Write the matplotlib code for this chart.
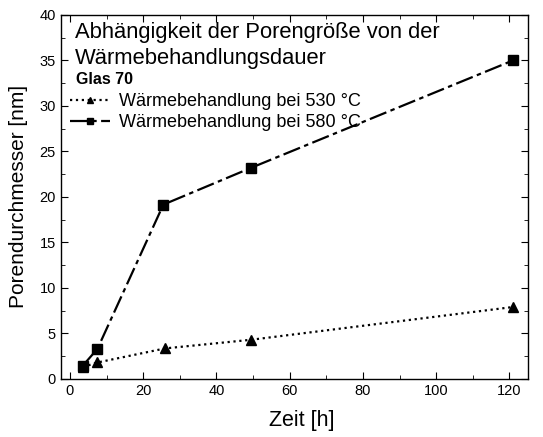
import matplotlib.pyplot as plt
from matplotlib.ticker import MultipleLocator

plt.rcParams['font.family'] = ['Liberation Sans', 'DejaVu Sans']

# Porendurchmesser nach Wärmebehandlung, Glas 70
zeit_530 = [3.5, 7.5, 26.0, 49.5, 121.0]
d_530 = [1.3, 1.8, 3.35, 4.3, 7.9]
zeit_580 = [3.5, 7.5, 25.5, 49.5, 121.0]
d_580 = [1.45, 3.3, 19.15, 23.2, 35.0]

fig = plt.figure(figsize=(5.43, 4.37), dpi=100)
ax = fig.add_axes([0.112, 0.133, 0.860, 0.833])

ax.plot(zeit_530, d_530, color='black', linestyle=':', linewidth=1.6,
        marker='^', markersize=7, label='Wärmebehandlung bei 530 °C')
ax.plot(zeit_580, d_580, color='black', linestyle=(0, (8, 2, 2, 2)), linewidth=1.6,
        marker='s', markersize=6.5, label='Wärmebehandlung bei 580 °C')

ax.set_xlim(-2.5, 125)
ax.set_ylim(0, 40)
ax.xaxis.set_major_locator(MultipleLocator(20))
ax.xaxis.set_minor_locator(MultipleLocator(10))
ax.yaxis.set_major_locator(MultipleLocator(5))
ax.yaxis.set_minor_locator(MultipleLocator(2.5))
ax.tick_params(which='both', direction='in', top=True, right=True, labelsize=10.5)
ax.tick_params(which='major', length=5)
ax.tick_params(which='minor', length=3)
for s in ax.spines.values():
    s.set_linewidth(1.0)

ax.set_xlabel('Zeit [h]', fontsize=15.5, labelpad=11)
ax.xaxis.set_label_coords(0.515, -0.085)
ax.set_ylabel('Porendurchmesser [nm]', fontsize=15, labelpad=8)

ax.text(0.03, 0.937, 'Abhängigkeit der Porengröße von der',
        transform=ax.transAxes, ha='left', va='baseline', fontsize=15.8)
ax.text(0.03, 0.865, 'Wärmebehandlungsdauer',
        transform=ax.transAxes, ha='left', va='baseline', fontsize=15.8)
ax.text(0.032, 0.81, 'Glas 70', transform=ax.transAxes, ha='left', va='baseline',
        fontsize=11.5, fontweight='bold')

ax.legend(loc='upper left', bbox_to_anchor=(0.005, 0.805), frameon=False,
          fontsize=13, handlelength=2.2, handletextpad=0.5, markerscale=0.7,
          labelspacing=0.22, borderaxespad=0.2, borderpad=0.2)

fig.savefig('out.png', dpi=100)
